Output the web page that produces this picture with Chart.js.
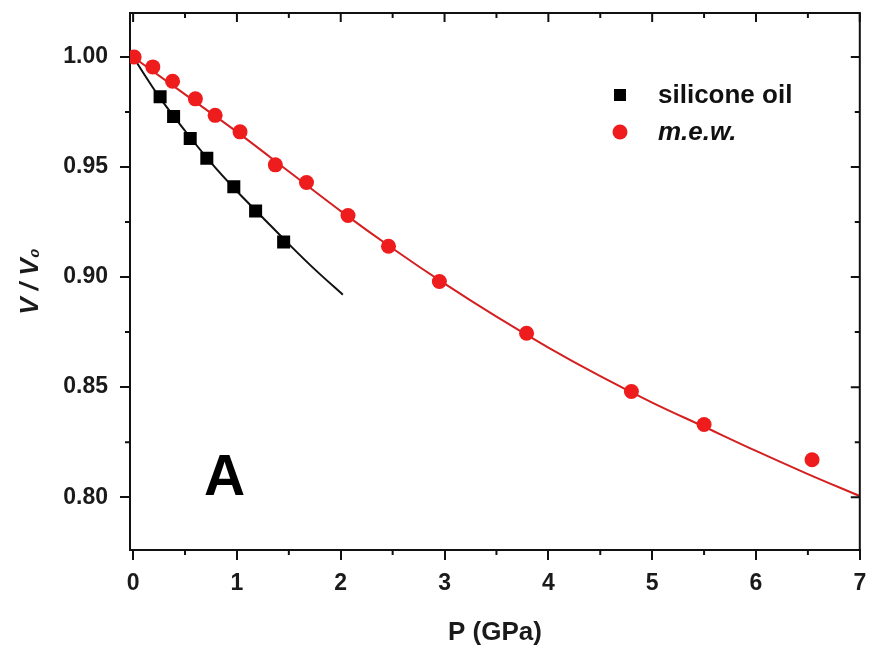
<!DOCTYPE html>
<html>
<head>
<meta charset="utf-8">
<script src="https://cdn.jsdelivr.net/npm/chart.js@4.4.1/dist/chart.umd.min.js"></script>
<style>
  html, body { margin: 0; padding: 0; background: #ffffff; }
  #wrap { width: 869px; height: 647px; position: relative; }
</style>
</head>
<body>
<div id="wrap"><canvas id="c" width="869" height="647"></canvas></div>
<script>
// ---- data ----
const seriesLabels = ['silicone oil', 'm.e.w.'];
const pressureSilicone = [0.26, 0.39, 0.55, 0.71, 0.97, 1.18, 1.45];
const volumeSilicone   = [0.982, 0.973, 0.963, 0.954, 0.941, 0.930, 0.916];
const pressureMew = [0.01, 0.19, 0.38, 0.60, 0.79, 1.03, 1.37, 1.67, 2.07, 2.46, 2.95, 3.79, 4.80, 5.50, 6.54];
const volumeMew   = [1.000, 0.9955, 0.989, 0.981, 0.9735, 0.966, 0.951, 0.943, 0.928, 0.914, 0.898, 0.8745, 0.848, 0.833, 0.817];
// fitted curves
const fitSiliconeP = [0, 0.25, 0.5, 0.75, 1.0, 1.25, 1.5, 1.75, 2.02];
const fitSiliconeV = [1.000, 0.982, 0.9665, 0.952, 0.939, 0.927, 0.915, 0.9035, 0.892];
const fitMewP = [0, 0.5, 1, 1.5, 2, 2.5, 3, 3.5, 4, 4.5, 5, 5.5, 6, 6.5, 7];
const fitMewV = [1.000, 0.983, 0.966, 0.948, 0.930, 0.913, 0.897, 0.882, 0.868, 0.855, 0.843, 0.832, 0.821, 0.8105, 0.8005];
// axes
const xTickValues = [0, 1, 2, 3, 4, 5, 6, 7];
const yTickValues = [0.80, 0.85, 0.90, 0.95, 1.00];
const xTitle = 'P (GPa)';
const yTitle = 'V / V\u2080';
const panelLabel = 'A';
const panelLabelAt = { x: 0.88, y: 0.808 };

const toXY = (xs, ys) => xs.map((x, i) => ({ x: x, y: ys[i] }));

const FONT = "'Liberation Sans', Arial, Helvetica, sans-serif";
const RED = '#ee1c1c';
const RED_LINE = '#d42020';

// frame + minor ticks + top/right ticks
const framePlugin = {
  id: 'frame',
  afterDatasetsDraw(chart) {
    const { ctx, chartArea: a, scales } = chart;
    const xs = scales.x, ys = scales.y;
    ctx.save();
    ctx.strokeStyle = '#111';
    ctx.lineWidth = 2;
    ctx.beginPath();
    ctx.moveTo(a.left, a.top); ctx.lineTo(a.right, a.top); ctx.lineTo(a.right, a.bottom);
    ctx.stroke();
    const maj = 9, mnr = 5;
    ctx.beginPath();
    xTickValues.forEach(v => {
      const p = xs.getPixelForValue(v);
      ctx.moveTo(p, a.top); ctx.lineTo(p, a.top + maj);
    });
    for (let i = 0; i < xTickValues.length - 1; i++) {
      const p = xs.getPixelForValue((xTickValues[i] + xTickValues[i + 1]) / 2);
      ctx.moveTo(p, a.bottom); ctx.lineTo(p, a.bottom + mnr);
      ctx.moveTo(p, a.top); ctx.lineTo(p, a.top + mnr);
    }
    yTickValues.forEach(v => {
      const p = ys.getPixelForValue(v);
      ctx.moveTo(a.right, p); ctx.lineTo(a.right - maj, p);
    });
    const yStep = yTickValues[1] - yTickValues[0];
    const yMinors = [];
    for (let i = 0; i < yTickValues.length - 1; i++) yMinors.push((yTickValues[i] + yTickValues[i + 1]) / 2);
    yMinors.push(yTickValues[yTickValues.length - 1] + yStep / 2);
    yMinors.forEach(v => {
      if (v > ys.max || v < ys.min) return;
      const p = ys.getPixelForValue(v);
      ctx.moveTo(a.left, p); ctx.lineTo(a.left - mnr, p);
      ctx.moveTo(a.right, p); ctx.lineTo(a.right - mnr, p);
    });
    ctx.stroke();

    // panel label
    ctx.fillStyle = '#000';
    ctx.font = 'bold 57px ' + FONT;
    ctx.textAlign = 'center';
    ctx.textBaseline = 'middle';
    ctx.fillText(panelLabel, xs.getPixelForValue(panelLabelAt.x), ys.getPixelForValue(panelLabelAt.y));

    // legend
    const lx = a.left + 490, ly0 = a.top + 82, dy = 37;
    const markers = [
      { style: 'rect', color: '#000', r: 8.5, font: 'bold 26px ' + FONT },
      { style: 'circle', color: RED, r: 7.5, font: 'italic bold 26px ' + FONT }
    ];
    const legendSets = chart.data.datasets.filter(d => d.isLegend);
    legendSets.forEach((d, i) => {
      const m = markers[i];
      const y = ly0 + i * dy;
      ctx.fillStyle = m.color;
      ctx.beginPath();
      if (m.style === 'rect') { const s = m.r * Math.SQRT1_2; ctx.rect(lx - s, y - s, 2 * s, 2 * s); }
      else ctx.arc(lx, y, m.r, 0, Math.PI * 2);
      ctx.fill();
      ctx.fillStyle = '#111';
      ctx.font = m.font;
      ctx.textAlign = 'left';
      ctx.textBaseline = 'middle';
      ctx.fillText(d.label, lx + 38, y + 1);
    });
    ctx.restore();
  }
};

new Chart(document.getElementById('c'), {
  type: 'scatter',
  data: {
    datasets: [
      {
        label: seriesLabels[0] + ' fit',
        type: 'line',
        data: toXY(fitSiliconeP, fitSiliconeV),
        borderColor: '#111',
        borderWidth: 2,
        pointRadius: 0,
        cubicInterpolationMode: 'monotone',
        fill: false,
        order: 3
      },
      {
        label: seriesLabels[1] + ' fit',
        type: 'line',
        data: toXY(fitMewP, fitMewV),
        borderColor: RED_LINE,
        borderWidth: 2,
        pointRadius: 0,
        cubicInterpolationMode: 'monotone',
        fill: false,
        order: 3
      },
      {
        label: seriesLabels[0],
        isLegend: true,
        data: toXY(pressureSilicone, volumeSilicone),
        pointStyle: 'rect',
        pointRadius: 9.2,
        backgroundColor: '#000',
        borderWidth: 0,
        order: 2
      },
      {
        label: seriesLabels[1],
        isLegend: true,
        data: toXY(pressureMew, volumeMew),
        pointStyle: 'circle',
        pointRadius: 7.5,
        backgroundColor: RED,
        borderWidth: 0,
        order: 1
      }
    ]
  },
  options: {
    responsive: false,
    animation: false,
    events: [],
    layout: { padding: { top: 13, right: 9, bottom: 0, left: 0 } },
    plugins: {
      legend: { display: false },
      tooltip: { enabled: false },
      title: { display: false }
    },
    scales: {
      x: {
        type: 'linear',
        min: -0.03,
        max: 7,
        afterBuildTicks: s => { s.ticks = xTickValues.map(v => ({ value: v })); },
        afterFit: s => { s.height = 97; s.paddingLeft = 0; s.paddingRight = 0; s.paddingTop = 0; s.paddingBottom = 0; },
        grid: { drawOnChartArea: false, drawTicks: true, tickLength: 10, color: '#111', lineWidth: 2 },
        border: { display: true, color: '#111', width: 2 },
        ticks: {
          color: '#1a1a1a',
          font: { family: FONT, size: 23, weight: 'bold' },
          padding: 10,
          maxRotation: 0,
          callback: v => String(v)
        },
        title: {
          display: true,
          text: xTitle,
          color: '#1a1a1a',
          font: { family: FONT, size: 26, weight: 'bold', lineHeight: 1 },
          padding: { top: 0, bottom: 1 }
        }
      },
      y: {
        type: 'linear',
        min: 0.776,
        max: 1.02,
        afterBuildTicks: s => { s.ticks = yTickValues.map(v => ({ value: v })); },
        afterFit: s => { s.width = 130; s.paddingLeft = 0; s.paddingRight = 0; s.paddingTop = 0; s.paddingBottom = 0; },
        grid: { drawOnChartArea: false, drawTicks: true, tickLength: 10, color: '#111', lineWidth: 2 },
        border: { display: true, color: '#111', width: 2 },
        ticks: {
          color: '#1a1a1a',
          font: { family: FONT, size: 23, weight: 'bold' },
          padding: 12,
          callback: v => Number(v).toFixed(2)
        },
        title: {
          display: true,
          text: yTitle,
          color: '#1a1a1a',
          font: { family: FONT, size: 26, weight: 'bold', style: 'italic', lineHeight: 1 },
          padding: { top: 18, bottom: 0 }
        }
      }
    }
  },
  plugins: [framePlugin]
});
</script>
</body>
</html>
